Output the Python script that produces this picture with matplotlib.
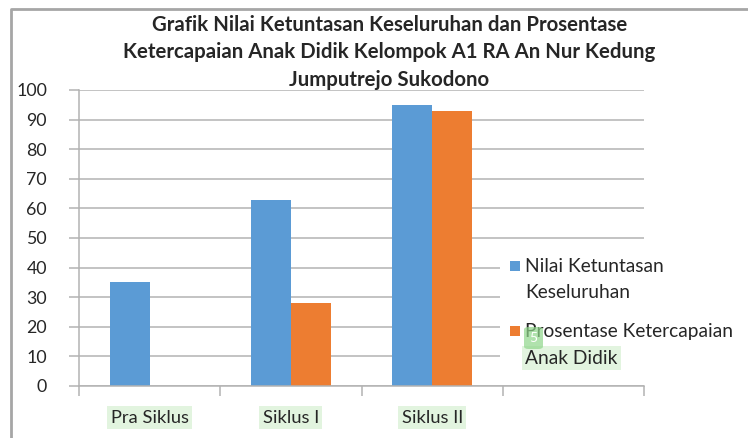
import matplotlib
matplotlib.use("Agg")
from matplotlib import pyplot as plt
from matplotlib.patches import Rectangle, FancyBboxPatch
from matplotlib.lines import Line2D
import numpy as np

# data
categories = ["Pra Siklus", "Siklus I", "Siklus II", ""]
nilai_ketuntasan = [35, 63, 95, np.nan]
prosentase_ketercapaian = [0, 28, 93, np.nan]
series_labels = [["Nilai Ketuntasan", "Keseluruhan"], ["Prosentase Ketercapaian", "Anak Didik"]]
title_lines = [
    "Grafik Nilai Ketuntasan Keseluruhan dan Prosentase",
    "Ketercapaian Anak Didik Kelompok A1 RA An Nur Kedung",
    "Jumputrejo Sukodono",
]
y_ticks = list(range(0, 101, 10))

BLUE = "#5b9bd5"
ORANGE = "#ed7d31"
GRID = "#b3b3b3"
TEXT = "#262626"
HILITE = "#e2f4df"
W, H = 748, 438

plt.rcParams["font.family"] = ["Lato", "DejaVu Sans"]


def fx(x):
    return x / W


def fy(y):
    return 1 - y / H


fig = plt.figure(figsize=(W / 100, H / 100), dpi=100)
ax = fig.add_axes([fx(79), fy(386), fx(644) - fx(79), fy(90) - fy(386)])

x = np.arange(len(categories))
bw = 0.283
ax.bar(x - bw / 2, nilai_ketuntasan, bw, color=BLUE, zorder=2)
ax.bar(x + bw / 2, prosentase_ketercapaian, bw, color=ORANGE, zorder=2)

ax.set_xlim(-0.5, len(categories) - 0.5)
ax.set_ylim(0, 100)
ax.set_yticks(y_ticks)
ax.yaxis.grid(True, color=GRID, linewidth=1.1, zorder=0)
ax.set_axisbelow(True)
for s in ["top", "right"]:
    ax.spines[s].set_visible(False)
for s in ["left", "bottom"]:
    ax.spines[s].set_color(GRID)
    ax.spines[s].set_linewidth(1.1)
ax.tick_params(axis="y", length=7, color=GRID, width=1.1, pad=16, labelsize=12.8, labelcolor=TEXT)

# category labels at centres, tick marks on the boundaries
ax.set_xticks(x[:3])
ax.set_xticklabels(categories[:3])
ax.set_xticks(np.arange(-0.5, len(categories)), minor=True)
ax.tick_params(axis="x", which="major", length=0, pad=17, labelsize=13.2, labelcolor=TEXT)
ax.tick_params(axis="x", which="minor", length=7, color=GRID, width=1.1)
for lbl in ax.get_xticklabels():
    lbl.set_bbox(dict(facecolor=HILITE, edgecolor="none", pad=2.5))

# title
for i, line in enumerate(title_lines):
    fig.text(fx(389.5), fy(25 + 27.5 * i), line, ha="center", va="center",
             fontsize=14.7, fontweight="bold", color=TEXT)

# legend, sitting over the right side of the plot like the original
fig.add_artist(Rectangle((fx(500), fy(375)), fx(248), 127 / H, facecolor="white",
                         edgecolor="none", transform=fig.transFigure, zorder=1))
legend_rows = [(266, 293), (331, 358)]
for (y1, y2), color, (l1, l2) in zip(legend_rows, [BLUE, ORANGE], series_labels):
    fig.add_artist(Rectangle((fx(509.5), fy(y1 + 5)), fx(10), 10 / H, facecolor=color,
                             edgecolor="none", transform=fig.transFigure, zorder=2))
    fig.text(fx(525), fy(y1), l1, ha="left", va="center", fontsize=13.8, color=TEXT, zorder=3)
    t = fig.text(fx(525), fy(y2), l2, ha="left", va="center", fontsize=13.8, color=TEXT, zorder=3)
    if l2 == "Anak Didik":
        t.set_bbox(dict(facecolor=HILITE, edgecolor="none", pad=2.5))

# small green marker badge over the second legend entry
fig.add_artist(FancyBboxPatch((fx(524), fy(349)), fx(19), 22 / H,
                              boxstyle="round,pad=0.0,rounding_size=0.006",
                              facecolor="#8fd68a", edgecolor="none", alpha=0.7,
                              transform=fig.transFigure, zorder=4))
fig.text(fx(533.5), fy(338), "5", ha="center", va="center", fontsize=10, color="white", zorder=5)

# outer chart frame (cropped)
fig.add_artist(Line2D([fx(11), fx(11), 1.0], [0.0, fy(8.5), fy(8.5)], color="#a6a6a6",
                      linewidth=2, transform=fig.transFigure))

fig.savefig("out.png", dpi=100)
